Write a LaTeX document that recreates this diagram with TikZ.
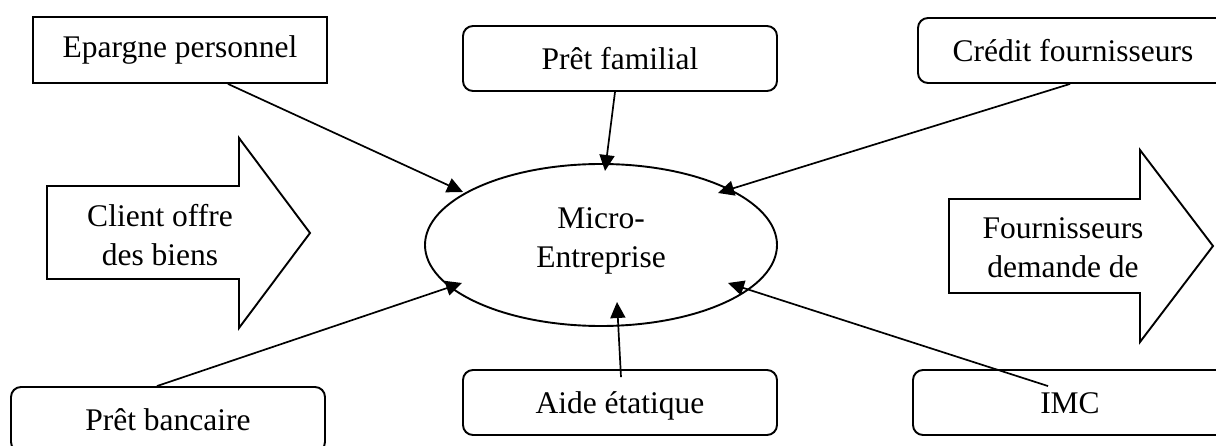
\documentclass[tikz,border=0pt]{standalone}
\usepackage{fontspec}
\setmainfont{Liberation Serif}
\usetikzlibrary{arrows.meta,shapes.geometric}
\begin{document}
\begin{tikzpicture}[x=1pt,y=-1pt,
  every node/.style={font=\fontsize{31.5}{39}\selectfont},
  frame/.style={draw, line width=1.9pt, inner sep=0pt, minimum height=65pt,
                text height=29pt, text depth=7pt},
  sqbox/.style={frame, sharp corners},
  rndbox/.style={frame, rounded corners=10pt, minimum width=314pt},
  hub/.style={draw, ellipse, line width=1.9pt, minimum width=352pt,
              minimum height=162pt, inner sep=0pt},
  caption/.style={align=center, inner sep=0pt},
  bigarrow/.style={draw, line width=1.9pt, line join=miter},
  link/.style={line width=1.7pt, -{Triangle[length=16pt,width=15pt]}}]

\useasboundingbox (0,0) rectangle (1216,446);
\clip (0,0) rectangle (1216,446);

% sources of funds
\node[sqbox, minimum width=294pt, minimum height=66pt, text height=23pt] (ep) at (180,50) {Epargne personnel};
\node[rndbox] (pf) at (620,58.5) {Prêt familial};
\node[rndbox, minimum width=310pt] (cf) at (1073,50.5) {Crédit fournisseurs};
\node[rndbox] (pb) at (168,419.5) {Prêt bancaire};
\node[rndbox] (ae) at (620,402.5) {Aide étatique};
\node[rndbox] (imc) at (1070,402.5) {IMC};

% the enterprise
\node[hub] (me) at (601,245) {};
\node[caption] (metext) at (601,240.6) {Micro-\\Entreprise};

% flows of goods
\draw[bigarrow] (47,186) -- (239,186) -- (239,138) -- (310,233) -- (239,328) -- (239,279) -- (47,279) -- cycle;
\node[caption] (client) at (160,235.5) {Client offre\\des biens};
\draw[bigarrow] (949,199) -- (1140,199) -- (1140,150) -- (1213,246) -- (1140,342) -- (1140,293) -- (949,293) -- cycle;
\node[caption] (fourn) at (1063,248) {Fournisseurs\\demande de};

% financing links
\draw[link] ([shift={(48,0)}]ep.south) -- ([shift={(-138,-53)}]me.center);
\draw[link] ([shift={(-5,0)}]pf.south) -- ([shift={(4,-74)}]me.center);
\draw[link] ([shift={(-3,0)}]cf.south) -- ([shift={(117,-52)}]me.center);
\draw[link] ([shift={(-11,0)}]pb.north) -- ([shift={(-139,38)}]me.center);
\draw[link] ([shift={(1,8)}]ae.north) -- ([shift={(16,57)}]me.center);
\draw[link] ([shift={(-22,17)}]imc.north) -- ([shift={(127,38)}]me.center);
\end{tikzpicture}
\end{document}
